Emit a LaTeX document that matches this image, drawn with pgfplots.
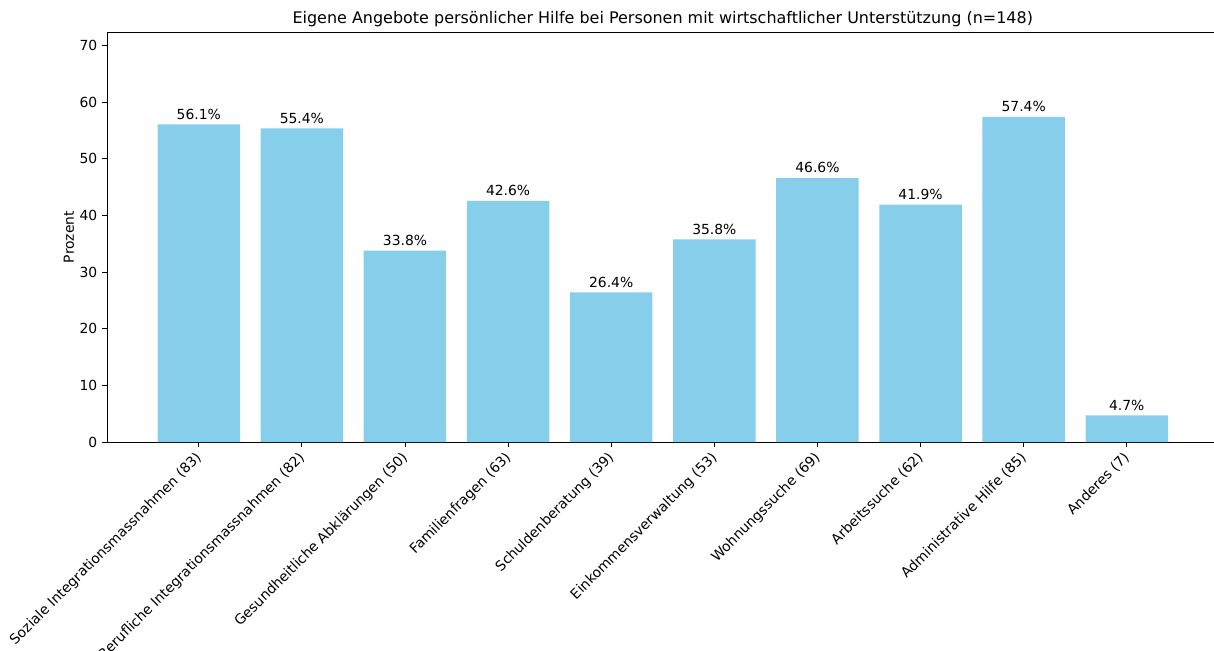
\documentclass[border=0pt]{standalone}
\usepackage{fontspec}
\setmainfont{DejaVu Sans}
\usepackage{pgfplots}
\pgfplotsset{compat=1.18}
\definecolor{skyblue}{HTML}{87CEEB}
\begin{document}
\begin{tikzpicture}
\path[use as bounding box, clip] (0,0) rectangle (874.08pt,468pt);
\begin{axis}[
  at={(77.04pt,149.76pt)}, anchor=south west,
  width=800.3pt, height=295.2pt, scale only axis,
  xmin=-0.89, xmax=9.89, ymin=0, ymax=72.4,
  ybar, bar width=0.8,
  axis line style={line width=0.6pt},
  tick style={line width=0.6pt, black},
  major tick length=3.5pt, tick align=outside,
  xtick pos=bottom, ytick pos=left,
  xtick={0,...,9},
  xticklabels={Soziale Integrationsmassnahmen (83),Berufliche Integrationsmassnahmen (82),Gesundheitliche Abklärungen (50),Familienfragen (63),Schuldenberatung (39),Einkommensverwaltung (53),Wohnungssuche (69),Arbeitssuche (62),Administrative Hilfe (85),Anderes (7)},
  xticklabel style={anchor=north east, xshift=-3pt, rotate=45, font=\fontsize{10}{12}\selectfont, inner sep=2pt},
  ytick={0,10,...,70},
  yticklabel style={font=\fontsize{10}{12}\selectfont},
  /pgf/number format/assume math mode=true,
  ylabel={Prozent},
  ylabel shift=-3pt,
  ylabel style={font=\fontsize{10}{12}\selectfont},
  title={Eigene Angebote persönlicher Hilfe bei Personen mit wirtschaftlicher Unterstützung (n=148)},
  title style={font=\fontsize{11.5}{14}\selectfont, yshift=-6pt},
  nodes near coords={\pgfmathprintnumber[fixed,precision=1,fixed zerofill]{\pgfplotspointmeta}\%},
  nodes near coords style={font=\fontsize{10}{12}\selectfont, black},
]
\addplot[fill=skyblue, draw=none] coordinates {
(0,56.1) (1,55.4) (2,33.8) (3,42.6) (4,26.4) (5,35.8) (6,46.6) (7,41.9) (8,57.4) (9,4.7)
};
\end{axis}
\end{tikzpicture}
\end{document}
